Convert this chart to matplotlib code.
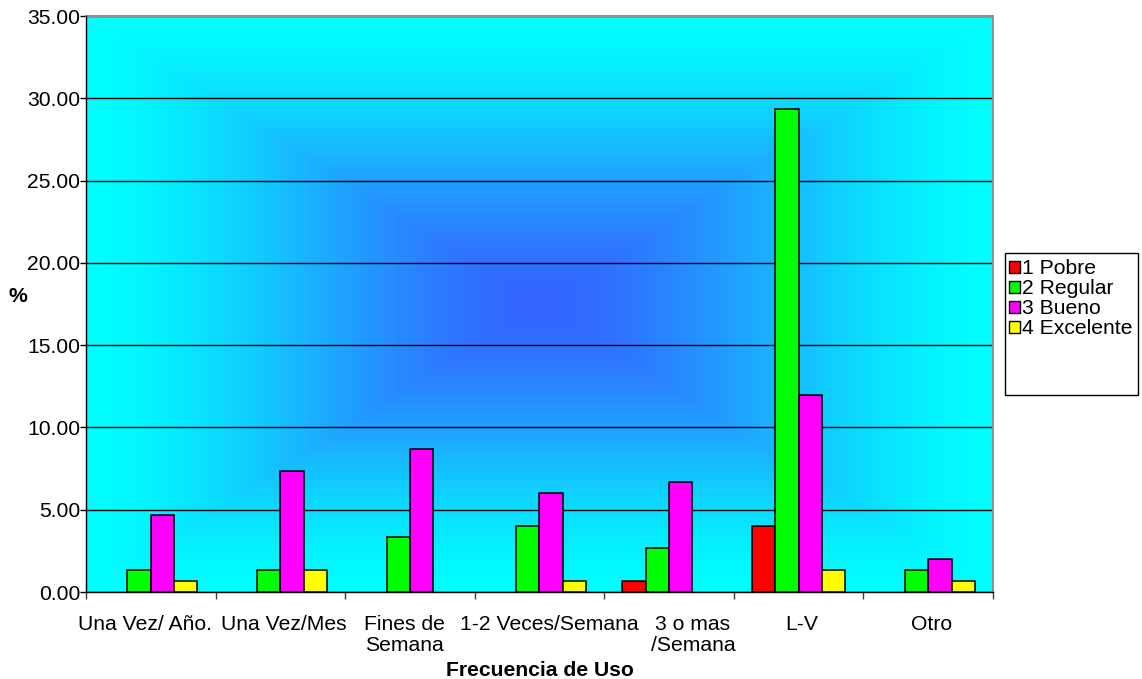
import numpy as np
import matplotlib
matplotlib.use("Agg")
import matplotlib.pyplot as plt
from matplotlib.patches import Rectangle
from matplotlib.colors import LinearSegmentedColormap

plt.rcParams['font.family'] = ['Liberation Sans', 'DejaVu Sans']

# ---- data -------------------------------------------------------------
categories = ["Una Vez/ Año.", "Una Vez/Mes", "Fines de\nSemana",
              "1-2 Veces/Semana", "3 o mas\n/Semana", "L-V", "Otro"]
pobre = [0.00, 0.00, 0.00, 0.00, 0.67, 4.00, 0.00]
regular = [1.33, 1.33, 3.33, 4.00, 2.67, 29.33, 1.33]
bueno = [4.67, 7.33, 8.67, 6.00, 6.67, 12.00, 2.00]
excelente = [0.67, 1.33, 0.00, 0.67, 0.00, 1.33, 0.67]
series_names = ["1 Pobre", "2 Regular", "3 Bueno", "4 Excelente"]
y_ticks = [0, 5, 10, 15, 20, 25, 30, 35]

# ---- styling ----------------------------------------------------------
series_colors = ["#FF0000", "#00FF00", "#FF00FF", "#FFFF00"]
label_x = [-0.045, 1.025, 1.961, 3.073, 4.184, 5.022, 6.025]
FS = 15.2

fig = plt.figure(figsize=(11.42, 6.79), dpi=100)
ax = fig.add_axes([0.0753, 0.1281, 0.7942, 0.8483])

# rectangular "from centre" gradient fill of the plot area
n = 500
u = np.linspace(-1, 1, n)
U, V = np.meshgrid(u, u)
t = np.maximum(np.abs(U), np.abs(V))
s = np.clip((t - 0.02) / 0.98, 0, 1)
f = 0.7 * s * s * (3 - 2 * s) + 0.3 * s
cmap = LinearSegmentedColormap.from_list("bg", ["#3366FF", "#00FFFF"])
ax.imshow(f, cmap=cmap, vmin=0, vmax=1, extent=[0, 1, 0, 1],
          transform=ax.transAxes, aspect="auto", zorder=0,
          interpolation="bilinear")

x = np.arange(len(categories))
w = 0.18
all_series = [pobre, regular, bueno, excelente]
handles = []
for i, (vals, name, col) in enumerate(zip(all_series, series_names, series_colors)):
    bars = ax.bar(x + (i - 1.5) * w, vals, width=w, color=col, edgecolor="black",
                  linewidth=1.1, zorder=3)
    for b, v in zip(bars, vals):
        if v == 0:
            b.set_visible(False)
    handles.append(Rectangle((0, 0), 1, 1, facecolor=col, edgecolor="black",
                             linewidth=1.0, label=name))

ax.set_xlim(-0.5, len(categories) - 0.5)
ax.set_ylim(0, 35)
ax.set_yticks(y_ticks)
ax.set_yticklabels([f"{v:.2f}" for v in y_ticks], fontsize=FS)
ax.yaxis.grid(True, color="black", linewidth=1.0)
for gl in ax.get_ygridlines():
    gl.set_zorder(1)

# x ticks at the category boundaries, labels drawn separately
ax.set_xticks(np.arange(len(categories) + 1) - 0.5)
ax.set_xticklabels([])
ax.tick_params(axis="x", direction="out", length=5, width=1, color="#404040")
ax.tick_params(axis="y", direction="out", length=4, width=1, pad=0, color="black")

for sp in ("left", "bottom"):
    ax.spines[sp].set_color("black")
    ax.spines[sp].set_linewidth(1.0)
    ax.spines[sp].set_zorder(4)
for sp in ("top", "right"):
    ax.spines[sp].set_color("#909090")
    ax.spines[sp].set_linewidth(1.5)

trans = ax.get_xaxis_transform()
for xl, lab in zip(label_x, categories):
    ax.text(xl, -0.040, lab, transform=trans, ha="center", va="top",
            fontsize=FS, linespacing=1.12, multialignment="center")

ax.text(0.5, -0.120, "Frecuencia de Uso", transform=ax.transAxes,
        ha="center", va="top", fontsize=FS, fontweight="bold")
fig.text(18 / 1142, 1 - 296 / 679, "%", ha="center", va="center",
         fontsize=FS, fontweight="bold")

# legend box with an empty lower part
fig.patches.append(Rectangle((1005 / 1142, 1 - 395 / 679), 133 / 1142, 142 / 679,
                             transform=fig.transFigure, facecolor="white",
                             edgecolor="black", linewidth=1.0, zorder=1))
fig.legend(handles=handles, loc="upper left",
           bbox_to_anchor=(1007 / 1142, 1 - 257 / 679),
           frameon=False, fontsize=FS, handlelength=0.5, handleheight=0.5,
           handletextpad=0.12, labelspacing=0.05, borderpad=0.1,
           borderaxespad=0)

fig.savefig("out.png", dpi=100, facecolor="white")
